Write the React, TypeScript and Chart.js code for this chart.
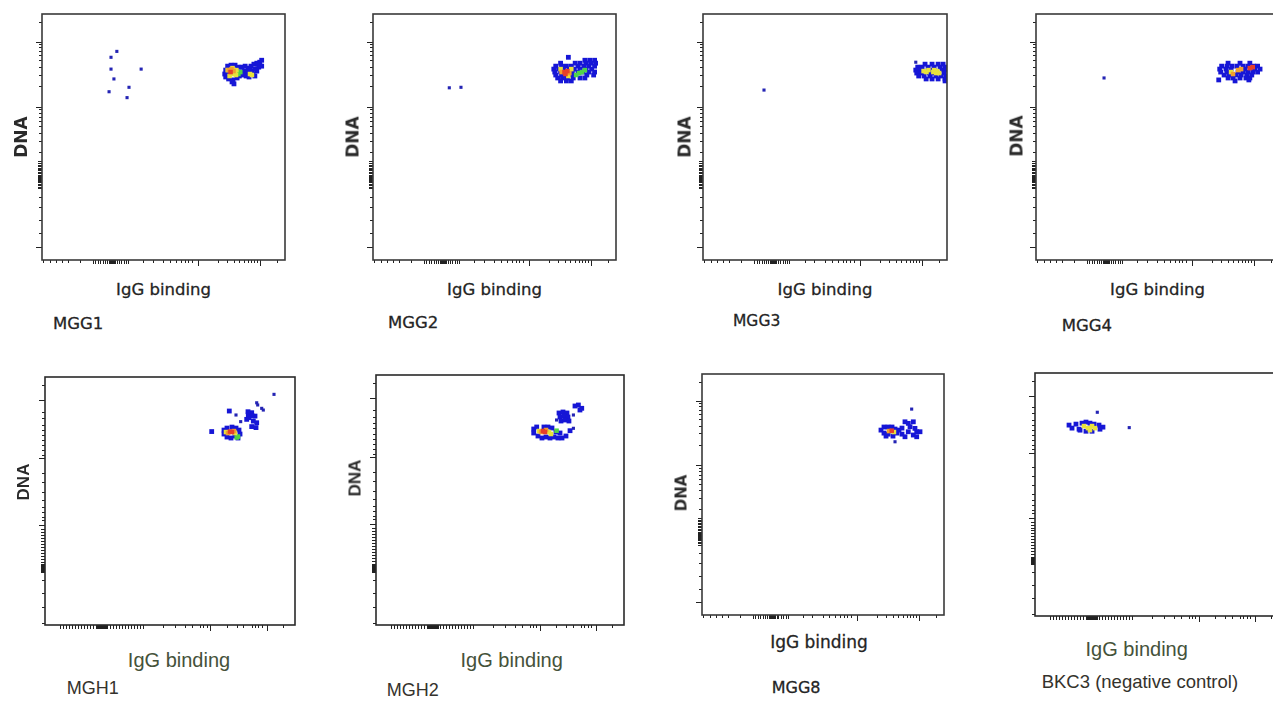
import React, { useEffect, useRef } from 'react';
import { Chart, registerables } from 'chart.js';

Chart.register(...registerables);

type P = [number, number];

// ---------- data (display channel units, 0–250 on both axes) ----------
const MGG1_sparse: P[] = [[77, 212], [71, 206], [71, 194], [74, 184], [102, 194], [69, 171], [89.5, 175.5], [87.5, 165]];
const MGG1_blue: P[] = [
  [189, 193], [188, 189], [191, 197], [194.5, 198], [198.6, 198], [201.7, 196], [189, 186], [192, 184], [196.5, 183],
  [200.7, 185], [203.7, 190], [195.5, 181], [197.5, 179], [191, 190], [199.6, 193],
  [205.8, 196], [209, 197], [212, 195], [215, 197], [218, 199], [221, 200], [224, 201], [226, 203], [207.9, 192],
  [211, 191], [216, 192], [219, 194], [223, 196], [226, 197], [213, 186], [219, 187], [210, 187], [206, 191], [222, 199],
  [203, 187], [207, 188], [214, 193], [217, 189], [221, 192], [224, 198],
];
const MGG1_green: P[] = [[202, 189], [204, 191]];
const MGG1_yellow: P[] = [[191, 193], [195.5, 189], [198.6, 191], [199.6, 188], [193, 187], [196, 195], [200, 193], [214, 189], [216, 188]];
const MGG1_orange: P[] = [[192, 193], [197, 192], [195, 194]];
const MGG1_red: P[] = [[194, 191]];

const MGG2_sparse: P[] = [[78.5, 175], [90.5, 175.5]];
const MGG2_blue: P[] = [
  [218, 203], [223, 203], [228, 203],
  [193, 200], [208, 200], [213, 200], [219, 200], [224, 200], [229, 200],
  [188, 197], [194, 197], [199, 197], [204, 197], [211, 197], [217, 197], [222, 197], [228, 197],
  [186, 194], [191, 194], [196, 194], [202, 194], [207, 194], [213, 194], [219, 194], [225, 194],
  [187, 191], [193, 191], [205, 191], [211, 191], [216, 191], [222, 191], [228, 191],
  [188, 188], [194, 188], [199, 188], [205, 188], [220, 188], [227, 188],
  [190, 185], [195, 185], [200, 185], [206, 185], [213, 185], [218, 185],
  [193, 182], [199, 182], [204, 182], [201, 206],
];
const MGG2_green: P[] = [[209, 188], [212, 190], [215, 191], [218, 193]];
const MGG2_yellow: P[] = [[201, 187], [204, 194], [193, 194]];
const MGG2_orange: P[] = [[194, 191], [202, 190]];
const MGG2_red: P[] = [[197, 191], [200, 192], [198, 189]];

const MGG3_sparse: P[] = [[62.5, 172.7], [218, 201]];
const MGG3_blue: P[] = [
  [227.5, 199], [234.7, 199], [240.9, 199], [246, 199],
  [220, 196], [224.5, 196], [230.6, 196], [236.8, 196], [242.9, 196], [248, 196],
  [218, 193], [222, 193], [233.7, 193], [245, 193], [249, 193],
  [219, 190], [223.5, 190], [231.7, 190], [235.8, 190], [247, 190],
  [221, 187], [226.5, 187], [232.7, 187], [238.8, 187], [244, 187], [249, 187],
  [228.6, 184], [234.7, 184], [240.9, 184], [248, 184], [248, 182],
];
const MGG3_yellow: P[] = [[226, 192], [229, 191], [231, 193], [236.8, 193], [239.9, 192], [242, 190], [239, 190], [236, 191]];

const MGG4_sparse: P[] = [[70, 185]];
const MGG4_blue: P[] = [
  [197.6, 200], [209.9, 200], [220, 200],
  [191, 197], [196.5, 197], [201.7, 197], [206.8, 197], [213, 197], [218, 197], [224, 197], [228, 197],
  [189, 194], [195.5, 194], [200.7, 194], [215, 194], [225, 194], [230.5, 194],
  [190, 191], [196.5, 191], [207.9, 191], [213, 191], [218, 191], [223, 191], [228, 191],
  [193.5, 188], [198.6, 188], [205.8, 188], [211, 188], [217, 188], [222, 188],
  [197.6, 185], [202.7, 185], [209.9, 185], [216, 185], [220, 185],
  [188, 183], [204.8, 182], [219, 183],
];
const MGG4_yellow: P[] = [[200.7, 191]];
const MGG4_orange: P[] = [[202.7, 189], [207.9, 193], [211, 194]];
const MGG4_red: P[] = [[220, 195], [223, 196]];

const MGH1_sparse: P[] = [[229, 232.5], [211.7, 224], [212.7, 221.8], [216.7, 218.4], [218.3, 216.7], [191, 211.7], [195.7, 205]];
const MGH1_blue: P[] = [
  [184.3, 215.7], [206.7, 200], [211, 199], [166.7, 195],
  [203.3, 212], [206.7, 214], [210, 210.6], [201.7, 207.3], [208.3, 205.6], [211.7, 203.9], [204, 209], [207, 211], [203, 215],
  [179, 196.5], [179, 192.5], [182, 198.5], [187, 199.5], [191, 198.5], [194, 196.5], [195, 192.5],
  [182, 189.5], [186, 188.5], [190, 190.5], [193, 188.5],
];
const MGH1_green: P[] = [[191.7, 189], [193, 190]];
const MGH1_yellow: P[] = [[181, 194.5], [190, 193.5]];
const MGH1_orange: P[] = [[183, 193.5], [189, 195.5]];
const MGH1_red: P[] = [[185, 195], [187, 194.5]];

const MGH2_sparse: P[] = [[199, 210], [182, 205], [199, 196.7]];
const MGH2_blue: P[] = [
  [204, 220], [207.4, 216.7], [205.6, 215], [200.6, 219],
  [184.5, 212], [188.5, 213], [192.5, 212], [185.5, 208], [189.5, 209], [193.5, 208], [186.5, 204], [190.5, 205], [194.5, 204],
  [195.6, 194.3],
  [159, 196], [162, 198], [159, 192], [163.3, 189], [167.3, 187], [171.4, 188], [175.4, 187], [179.4, 188], [183.4, 187],
  [187.5, 187], [191.5, 189], [177.4, 197], [181.4, 193], [185.5, 192], [169.3, 198], [173.4, 198],
];
const MGH2_green: P[] = [[182, 194.3]];
const MGH2_yellow: P[] = [[174.4, 193], [176.4, 191], [164.3, 194]];
const MGH2_orange: P[] = [[166.3, 193], [171.4, 195]];
const MGH2_red: P[] = [[168.3, 194], [170.3, 193]];

const MGG8_sparse: P[] = [[216.6, 213.6], [199.4, 179.7]];
const MGG8_blue: P[] = [
  [209.7, 200.4], [213.1, 198.8], [218.3, 200.4], [214.9, 195.3], [220, 193.6], [221.8, 190.1], [225.2, 190.1],
  [213.1, 190.1], [218.3, 186.7], [221.8, 184.9], [209.7, 184.9],
  [184.9, 191.8], [188, 195], [188, 188.7], [192.2, 195], [192.2, 187.6], [196.3, 195], [199.4, 192.9],
  [201.4, 188.7], [203.5, 191.8], [190.1, 185.6], [197.3, 185.6], [206.6, 193.9], [206.6, 187.6],
];
const MGG8_yellow: P[] = [[198.3, 189.8]];
const MGG8_orange: P[] = [[193.2, 190.8]];
const MGG8_red: P[] = [[196, 191.2]];

const BKC3_sparse: P[] = [[62.8, 209.6], [95, 193.8]];
const BKC3_blue: P[] = [
  [34.3, 196.4], [37.3, 193.3], [41.3, 197.4], [44.4, 192.2], [47.4, 198.4], [51.4, 199.5], [55.4, 198.4],
  [59.5, 197.4], [64.5, 196.4], [68.5, 194.3], [65.5, 192.2], [57.5, 190.1], [51.4, 190.1], [45.4, 191.2],
];
const BKC3_yellow: P[] = [[49.4, 195.4], [53.4, 193.3], [57.5, 195.4], [60.5, 193.3], [55.4, 191.2]];

// ---------- axis tick positions (display channel units) ----------
const yMajorA = [222, 155.8, 13];
const yMinorA = [242, 219.8, 216.4, 212.5, 208.2, 202.9, 196.5, 188.3, 176.7, 153, 149.4, 145.5, 141.2, 135.9, 129.5, 121.3, 109.6, 64, 53.8, 40.6, 27.4];
const yDenseA = [101, 99, 97, 95.5, 94, 92.5, 91, 89.5, 88, 86.5, 85, 84, 83, 82, 81, 80, 79, 77.5, 76, 74.5, 73];
const xMajorA = [160.5, 224.3];
const xMinorA = [0.7, 8.2, 14.4, 20.3, 27, 39, 104, 114, 124.5, 131.7, 137.9, 143, 147, 150.2, 154.3, 181, 190.4, 197.6, 202.7, 207.8, 212, 215, 218, 221.2, 241.8];
const xDenseA = [52.5, 55, 57.5, 60, 62.5, 65, 67, 69, 70, 71, 72, 73, 74, 75, 77, 79, 81.5, 84, 86.5, 88.5];

const yMajorB = [226.8, 168, 100.8];
const yMinorB = [242, 215, 208.4, 201.6, 196.6, 191.5, 186.5, 181.4, 176.4, 171.4, 152.9, 144.5, 134.4, 126, 119.2, 114.2, 109.2, 105.8, 45.4, 32.3, 18.4, 2];
const yDenseB = [97, 94, 91, 88, 85, 82, 79, 76, 73, 70, 67, 64, 61, 60, 59, 58, 57, 56, 55, 54, 53];
const xMajorB = [165, 221.7];
const xMinorB = [118, 130, 140, 146.7, 155, 158, 161.7, 181.7, 191.7, 198.3, 206.7, 210, 213.3, 216.7, 238.3];
const xDenseB = [15, 18, 21, 24, 27, 30, 33, 36, 39, 42, 45, 48, 51, 52, 53, 54, 55, 56, 57, 58, 59, 60, 61, 62, 65, 68, 71, 74, 77, 80, 83, 86, 89, 92, 95, 98];

// ---------- styling ----------
const COLORS = {
  sparse: '#2424b4',
  blue: '#1616d6',
  green: '#4fd24a',
  yellow: '#e8e23c',
  orange: '#f0a02e',
  red: '#e6402a',
};
const RADIUS: Record<string, number> = { sparse: 2.2, blue: 3.4, green: 3.2, yellow: 3.2, orange: 3.2, red: 3.2 };

type Layer = { kind: keyof typeof COLORS; pts: P[] };
type Label = [number, number, number];
type Panel = {
  name: string;
  style: 'A' | 'B';
  box: [number, number, number, number];
  layers: Layer[];
  dna?: Label;
  igg: Label;
  title: Label;
};

const PANELS: Panel[] = [
  {
    name: 'MGG1', style: 'A', box: [42, 14, 243, 246],
    layers: [
      { kind: 'sparse', pts: MGG1_sparse }, { kind: 'blue', pts: MGG1_blue }, { kind: 'green', pts: MGG1_green },
      { kind: 'yellow', pts: MGG1_yellow }, { kind: 'orange', pts: MGG1_orange }, { kind: 'red', pts: MGG1_red },
    ],
    dna: [20.7, 136.7, 17], igg: [163.5, 291.7, 16.5], title: [53, 324, 16.5],
  },
  {
    name: 'MGG2', style: 'A', box: [373, 14, 243, 246],
    layers: [
      { kind: 'sparse', pts: MGG2_sparse }, { kind: 'blue', pts: MGG2_blue }, { kind: 'green', pts: MGG2_green },
      { kind: 'yellow', pts: MGG2_yellow }, { kind: 'orange', pts: MGG2_orange }, { kind: 'red', pts: MGG2_red },
    ],
    dna: [353.3, 136.7, 17], igg: [494.5, 291.7, 16.5], title: [388, 323.3, 16.5],
  },
  {
    name: 'MGG3', style: 'A', box: [703, 14, 244, 246],
    layers: [{ kind: 'sparse', pts: MGG3_sparse }, { kind: 'blue', pts: MGG3_blue }, { kind: 'yellow', pts: MGG3_yellow }],
    dna: [685, 136.7, 17], igg: [825, 291.7, 16.5], title: [733, 321.7, 15.5],
  },
  {
    name: 'MGG4', style: 'A', box: [1036, 14, 243, 246],
    layers: [
      { kind: 'sparse', pts: MGG4_sparse }, { kind: 'blue', pts: MGG4_blue }, { kind: 'yellow', pts: MGG4_yellow },
      { kind: 'orange', pts: MGG4_orange }, { kind: 'red', pts: MGG4_red },
    ],
    dna: [1016.7, 135.5, 17], igg: [1157.5, 291.7, 16.5], title: [1061.7, 325.5, 16.5],
  },
  {
    name: 'MGH1', style: 'B', box: [45, 377, 250, 248],
    layers: [
      { kind: 'sparse', pts: MGH1_sparse }, { kind: 'blue', pts: MGH1_blue }, { kind: 'green', pts: MGH1_green },
      { kind: 'yellow', pts: MGH1_yellow }, { kind: 'orange', pts: MGH1_orange }, { kind: 'red', pts: MGH1_red },
    ],
    dna: [23.3, 481.7, 17], igg: [179, 661, 20], title: [66.7, 688, 18],
  },
  {
    name: 'MGH2', style: 'B', box: [376, 375, 248, 250],
    layers: [
      { kind: 'sparse', pts: MGH2_sparse }, { kind: 'blue', pts: MGH2_blue }, { kind: 'green', pts: MGH2_green },
      { kind: 'yellow', pts: MGH2_yellow }, { kind: 'orange', pts: MGH2_orange }, { kind: 'red', pts: MGH2_red },
    ],
    dna: [355, 478, 17], igg: [511.7, 661.7, 20], title: [386.7, 690, 18],
  },
  {
    name: 'MGG8', style: 'A', box: [702, 374, 242, 241],
    layers: [
      { kind: 'sparse', pts: MGG8_sparse }, { kind: 'blue', pts: MGG8_blue }, { kind: 'yellow', pts: MGG8_yellow },
      { kind: 'orange', pts: MGG8_orange }, { kind: 'red', pts: MGG8_red },
    ],
    dna: [681.7, 493, 15], igg: [819, 643.3, 17], title: [771.7, 688.3, 16],
  },
  {
    name: 'BKC3 (negative control)', style: 'B', box: [1035, 373, 248, 243],
    layers: [{ kind: 'sparse', pts: BKC3_sparse }, { kind: 'blue', pts: BKC3_blue }, { kind: 'yellow', pts: BKC3_yellow }],
    igg: [1136.7, 650, 20], title: [1041.7, 681.7, 18.5],
  },
];

const PAD = 12;
const FONT_A = '"DejaVu Sans", Verdana, sans-serif';
const FONT_B = '"Liberation Sans", Arial, sans-serif';

function makeAxesPlugin(style: 'A' | 'B') {
  const t = style === 'A'
    ? { xMaj: xMajorA, xMin: xMinorA, xDen: xDenseA, yMaj: yMajorA, yMin: yMinorA, yDen: yDenseA }
    : { xMaj: xMajorB, xMin: xMinorB, xDen: xDenseB, yMaj: yMajorB, yMin: yMinorB, yDen: yDenseB };
  return {
    id: 'flowAxes',
    afterDatasetsDraw(chart: any) {
      const { ctx, chartArea: a, scales } = chart;
      const xs = scales.x;
      const ys = scales.y;
      ctx.save();
      ctx.strokeStyle = '#222';
      ctx.lineWidth = 1;
      ctx.beginPath();
      const xt = (vals: number[], len: number) => {
        for (const v of vals) {
          const px = Math.round(xs.getPixelForValue(v)) + 0.5;
          ctx.moveTo(px, a.bottom);
          ctx.lineTo(px, a.bottom + len);
        }
      };
      const yt = (vals: number[], len: number) => {
        for (const v of vals) {
          const py = Math.round(ys.getPixelForValue(v)) + 0.5;
          ctx.moveTo(a.left, py);
          ctx.lineTo(a.left - len, py);
        }
      };
      xt(t.xMin, 3); xt(t.xDen, 4); xt(t.xMaj, 6);
      yt(t.yMin, 3); yt(t.yDen, 4); yt(t.yMaj, 6);
      ctx.stroke();
      ctx.strokeStyle = style === 'A' ? '#3a3a3a' : '#2a2a2a';
      ctx.lineWidth = 1.6;
      ctx.strokeRect(a.left, a.top, a.right - a.left, a.bottom - a.top);
      ctx.restore();
    },
  };
}

function PanelView({ p }: { p: Panel }) {
  const ref = useRef<HTMLCanvasElement | null>(null);
  const [bx, by, bw, bh] = p.box;
  useEffect(() => {
    if (!ref.current) return;
    const chart = new Chart(ref.current, {
      type: 'scatter',
      data: {
        // later layers (denser colours) are drawn on top: lower "order" is drawn last
        datasets: p.layers.map((l, i) => ({
          data: l.pts.map(([x, y]) => ({ x, y })),
          backgroundColor: COLORS[l.kind],
          borderWidth: 0,
          pointStyle: 'rect',
          pointRadius: RADIUS[l.kind],
          pointHoverRadius: RADIUS[l.kind],
          order: -i,
        })),
      },
      options: {
        animation: false,
        responsive: false,
        events: [],
        layout: { padding: PAD, autoPadding: false },
        scales: {
          x: { type: 'linear', min: 0, max: 250, display: false },
          y: { type: 'linear', min: 0, max: 250, display: false },
        },
        plugins: { legend: { display: false }, tooltip: { enabled: false } },
      } as any,
      plugins: [makeAxesPlugin(p.style)],
    });
    return () => chart.destroy();
  }, [p]);

  const font = p.style === 'A' ? FONT_A : FONT_B;
  const textColor = p.style === 'A' ? '#242424' : '#34322c';
  const iggColor = p.style === 'A' ? '#242424' : '#45523a';
  const stroke = p.style === 'A' ? '0.3px #242424' : '0px transparent';
  return (
    <>
      <canvas
        ref={ref}
        width={bw + 2 * PAD}
        height={bh + 2 * PAD}
        style={{ position: 'absolute', left: bx - PAD, top: by - PAD, width: bw + 2 * PAD, height: bh + 2 * PAD }}
      />
      {p.dna && (
        <div
          style={{
            position: 'absolute', left: p.dna[0], top: p.dna[1], fontFamily: font, fontSize: p.dna[2],
            fontWeight: 'bold', color: '#2a2a2a', lineHeight: 1, whiteSpace: 'nowrap',
            transform: 'translate(-50%, -50%) rotate(-90deg)',
          }}
        >
          DNA
        </div>
      )}
      <div
        style={{
          position: 'absolute', left: p.igg[0], top: p.igg[1] - 1.5, fontFamily: font, fontSize: p.igg[2],
          color: iggColor, lineHeight: 1, whiteSpace: 'nowrap', transform: 'translate(-50%, -50%)',
          WebkitTextStroke: stroke,
        }}
      >
        IgG binding
      </div>
      <div
        style={{
          position: 'absolute', left: p.title[0], top: p.title[1], fontFamily: font, fontSize: p.title[2],
          color: textColor, lineHeight: 1, whiteSpace: 'nowrap', transform: 'translate(0, -50%)',
          WebkitTextStroke: stroke,
        }}
      >
        {p.name}
      </div>
    </>
  );
}

export default function App() {
  return (
    <div style={{ position: 'absolute', left: 0, top: 0, width: 1273, height: 702, overflow: 'hidden', background: '#fff' }}>
      {PANELS.map((p) => (
        <PanelView key={p.name} p={p} />
      ))}
    </div>
  );
}
